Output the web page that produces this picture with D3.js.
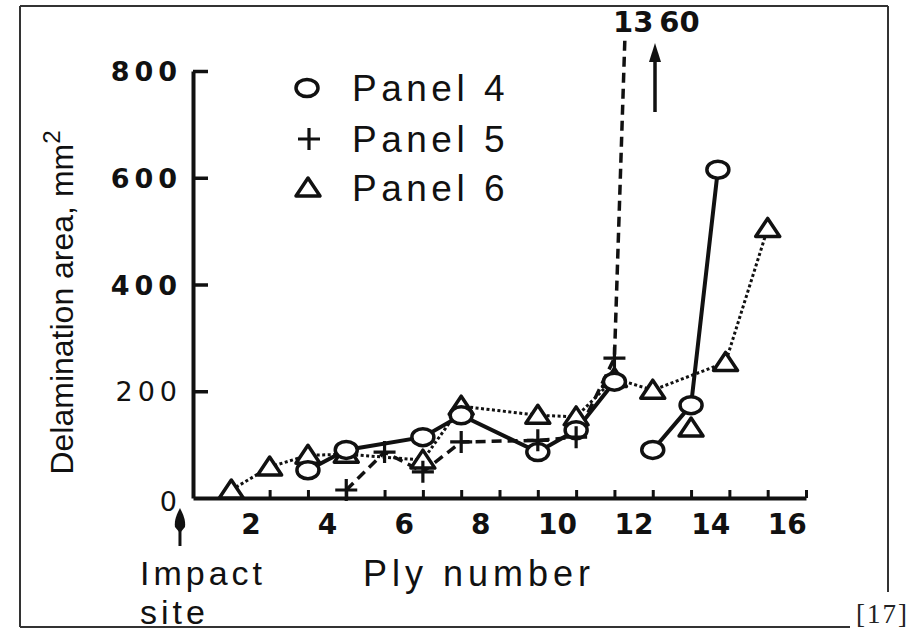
<!DOCTYPE html>
<html>
<head>
<meta charset="utf-8">
<script src="https://cdn.jsdelivr.net/npm/d3@7"></script>
<style>
  body { margin: 0; background: #fff; }
  svg { display: block; }
</style>
</head>
<body>
<svg id="chart" width="916" height="638"></svg>
<script>
// Ply interfaces are plotted at half-integer positions: [ply, delamination area mm²]
const panel4 = [[3.5, 52], [4.5, 90], [6.5, 114], [7.5, 155], [9.5, 86], [10.5, 127], [11.5, 218],
                [12, null], [12.5, 90], [13.5, 174], [14.2, 615]];
const panel5 = [[4.5, 15], [5.5, 86], [6.5, 49], [7.5, 105], [9.5, 108], [10.5, 114], [11.5, 262], [12.0, 1360]];
const panel6 = [[1.5, 15], [2.5, 58], [3.5, 80], [4.5, 82], [6.5, 71], [7.5, 172], [9.5, 155], [10.5, 152],
                [11.5, 224], [12.5, 202], [14.4, 254], [15.5, 505]];
const panel6Single = [[13.5, 131]];

const xLabels = [2, 4, 6, 8, 10, 12, 14, 16];
const xMinor = [1.5, 2.5, 3.5, 4.5, 5.5, 6.5, 7.5, 8.5, 9.5, 10.5, 11.5, 12.5, 13.5, 14.5, 15.5, 16.5];
const yLabels = [0, 200, 400, 600, 800];
const seriesNames = ["Panel 4", "Panel 5", "Panel 6"];

const ink = "#111";
const svg = d3.select("#chart");

const x = d3.scaleLinear().domain([0.5, 16.5]).range([193, 806]);
const y = d3.scaleLinear().domain([0, 800]).range([498, 71]);

// page frame
const frame = svg.append("g").attr("stroke", "#333").attr("stroke-width", 2);
frame.append("line").attr("x1", 20).attr("y1", 6).attr("x2", 888).attr("y2", 6);
frame.append("line").attr("x1", 20).attr("y1", 6).attr("x2", 20).attr("y2", 627);
frame.append("line").attr("x1", 20).attr("y1", 627).attr("x2", 850).attr("y2", 627);
frame.append("line").attr("x1", 888).attr("y1", 6).attr("x2", 888).attr("y2", 592);
svg.append("text").attr("x", 856).attr("y", 623)
  .attr("font-family", "Liberation Serif").attr("font-size", 27).attr("letter-spacing", 2).attr("fill", "#222")
  .text("[17]");

// y axis
const yAxis = svg.append("g").attr("transform", `translate(${x(0.5)},0)`)
  .call(d3.axisLeft(y).tickValues(yLabels).tickSizeInner(-15).tickSizeOuter(0).tickPadding(11));
yAxis.select(".domain").attr("stroke", ink).attr("stroke-width", 4);
yAxis.selectAll(".tick line").attr("stroke", ink).attr("stroke-width", 3.5)
  .filter(d => d === 0).remove();
yAxis.selectAll(".tick text")
  .attr("font-family", "DejaVu Sans").attr("font-size", 27).attr("fill", ink)
  .attr("letter-spacing", 5)
  .attr("font-weight", d => d >= 400 ? "bold" : "normal")
  .attr("dy", d => d === 0 ? "0.45em" : "0.36em");

// x axis: minor ticks at every interface, labels centred on plies
const xAxisTicks = svg.append("g").attr("transform", `translate(0,${y(0)})`)
  .call(d3.axisBottom(x).tickValues(xMinor).tickSizeInner(-8).tickSizeOuter(0).tickFormat(""));
xAxisTicks.select(".domain").attr("stroke", ink).attr("stroke-width", 4);
xAxisTicks.selectAll(".tick line").attr("stroke", ink).attr("stroke-width", 3);

const xAxisLabels = svg.append("g").attr("transform", `translate(0,${y(0)})`)
  .call(d3.axisBottom(x).tickValues(xLabels).tickSize(0).tickPadding(16));
xAxisLabels.select(".domain").remove();
xAxisLabels.selectAll(".tick text")
  .attr("font-family", "DejaVu Sans").attr("font-weight", "bold")
  .attr("font-size", 28).attr("fill", ink);

// axis titles
const titleFont = "Liberation Sans";
const yTitle = svg.append("text")
  .attr("transform", `translate(73,${(470 + 135) / 2}) rotate(-90)`)
  .attr("text-anchor", "middle").attr("font-family", titleFont).attr("font-size", 32).attr("fill", ink);
yTitle.append("tspan").text("Delamination area, mm");
yTitle.append("tspan").attr("dy", -13).attr("font-size", 24).text("2");

svg.append("text").attr("x", 363).attr("y", 586)
  .attr("font-family", titleFont).attr("font-size", 36).attr("letter-spacing", 5).attr("fill", ink)
  .text("Ply number");
svg.append("text").attr("x", 140).attr("y", 585)
  .attr("font-family", titleFont).attr("font-size", 34).attr("letter-spacing", 4).attr("fill", ink)
  .text("Impact");
svg.append("text").attr("x", 140).attr("y", 624)
  .attr("font-family", titleFont).attr("font-size", 34).attr("letter-spacing", 4).attr("fill", ink)
  .text("site");

// impact-site arrow
const ax = x(0.16);
svg.append("line").attr("x1", ax).attr("x2", ax).attr("y1", 520).attr("y2", 546)
  .attr("stroke", ink).attr("stroke-width", 3);
svg.append("path").attr("d", `M${ax},508 C${ax + 3},514 ${ax + 6},520 ${ax + 5},527 L${ax},533 L${ax - 5},527 C${ax - 6},520 ${ax - 3},514 ${ax},508 Z`)
  .attr("fill", ink);

// marker shapes
function drawCircle(g, cx, cy) {
  g.append("ellipse").attr("cx", cx).attr("cy", cy).attr("rx", 11).attr("ry", 8.5)
    .attr("fill", "#fff").attr("stroke", ink).attr("stroke-width", 3.5);
}
function drawPlus(g, cx, cy) {
  g.append("path").attr("d", `M${cx - 11},${cy} H${cx + 11} M${cx},${cy - 11} V${cy + 11}`)
    .attr("fill", "none").attr("stroke", ink).attr("stroke-width", 3.2);
}
function drawTriangle(g, cx, cy) {
  g.append("path").attr("d", `M${cx},${cy - 10} L${cx + 12},${cy + 8} L${cx - 12},${cy + 8} Z`)
    .attr("fill", "#fff").attr("stroke", ink).attr("stroke-width", 3.5).attr("stroke-linejoin", "round");
}

// series lines
svg.append("defs").append("clipPath").attr("id", "plotClip")
  .append("rect").attr("x", 150).attr("y", 40).attr("width", 700).attr("height", 480);

const line = d3.line().defined(d => d[1] !== null).x(d => x(d[0])).y(d => y(d[1]));
const lines = svg.append("g").attr("clip-path", "url(#plotClip)").attr("fill", "none").attr("stroke", ink);
lines.append("path").datum(panel6).attr("d", line).attr("stroke-width", 3).attr("stroke-dasharray", "3 2.5");
lines.append("path").datum(panel5).attr("d", line).attr("stroke-width", 3.5).attr("stroke-dasharray", "10 6");
lines.append("path").datum(panel4).attr("d", line).attr("stroke-width", 4);

// markers
const marks = svg.append("g");
panel6.concat(panel6Single).forEach(d => drawTriangle(marks, x(d[0]), y(d[1])));
panel4.filter(d => d[1] !== null).forEach(d => drawCircle(marks, x(d[0]), y(d[1])));
panel5.filter(d => d[1] <= 800).forEach(d => drawPlus(marks, x(d[0]), y(d[1])));

// off-scale value for Panel 5
const offScale = panel5.find(d => d[1] > 800);
const offLabel = String(offScale[1]);
const offText = svg.append("text").attr("x", 613).attr("y", 32)
  .attr("font-family", "DejaVu Sans").attr("font-weight", "bold").attr("font-size", 29).attr("fill", ink);
offText.append("tspan").text(offLabel.slice(0, 2));
offText.append("tspan").attr("dx", 6).text(offLabel.slice(2));
svg.append("line").attr("x1", 655).attr("x2", 655).attr("y1", 58).attr("y2", 112)
  .attr("stroke", ink).attr("stroke-width", 3.5);
svg.append("path").attr("d", "M655,43 L661,62 L649,62 Z").attr("fill", ink);

// legend
const legend = svg.append("g");
const legendY = [88, 139, 188];
drawCircle(legend, 307, legendY[0]);
drawPlus(legend, 309, legendY[1]);
drawTriangle(legend, 308, legendY[2]);
seriesNames.forEach((name, i) => {
  legend.append("text").attr("x", 352).attr("y", legendY[i] + 13)
    .attr("font-family", titleFont).attr("font-size", 37).attr("letter-spacing", 4.5).attr("fill", ink)
    .text(name);
});
</script>
</body>
</html>
